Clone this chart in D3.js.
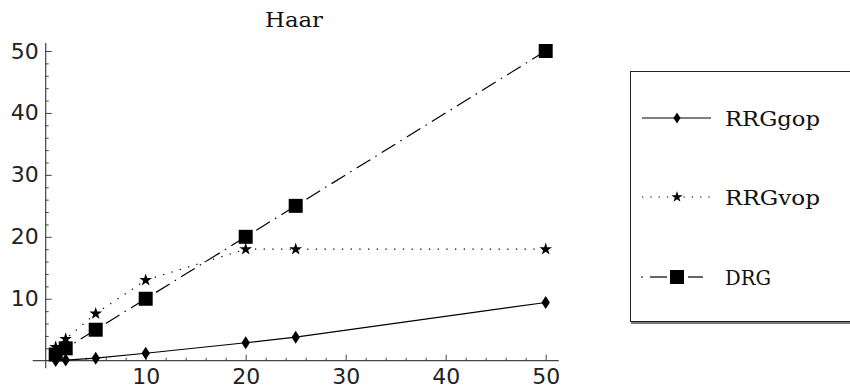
<!DOCTYPE html>
<html><head><meta charset="utf-8">
<script src="https://cdn.jsdelivr.net/npm/d3@7"></script>
<style>html,body{margin:0;padding:0;background:#fff;}svg{display:block;}</style>
</head><body>
<svg id="chart" width="850" height="389"></svg>
<script>
const xValues = [1, 2, 5, 10, 20, 25, 50];
const rrgGop = [0.05, 0.1, 0.4, 1.2, 2.9, 3.8, 9.4];
const rrgVop = [2.2, 3.5, 7.6, 13.0, 18.0, 18.0, 18.0];
const drg = [1, 2, 5, 10, 20, 25, 50];
const seriesNames = ["RRGgop", "RRGvop", "DRG"];
const xTickLabels = [10, 20, 30, 40, 50];
const yTickLabels = [10, 20, 30, 40, 50];
const minorTicks = [2, 4, 6, 8, 12, 14, 16, 18, 22, 24, 26, 28, 32, 34, 36, 38, 42, 44, 46, 48];
const title = "Haar";

const svg = d3.select("#chart");
const x = d3.scaleLinear().domain([0, 50]).range([45.7, 545.7]);
const y = d3.scaleLinear().domain([0, 50]).range([360.7, 51]);

const serif = "'DejaVu Serif', serif";
const sans = "'DejaVu Sans', sans-serif";

// title
svg.append("text").attr("x", 265).attr("y", 27)
  .attr("font-family", serif).attr("font-size", 20)
  .attr("textLength", 58).attr("lengthAdjust", "spacingAndGlyphs").attr("fill", "#111").text(title);

// axes lines
svg.append("line").attr("x1", x(-1.3)).attr("x2", x(51.3)).attr("y1", y(0)).attr("y2", y(0))
  .attr("stroke", "#444").attr("stroke-width", 1.2);
svg.append("line").attr("x1", x(0)).attr("x2", x(0)).attr("y1", y(-1.2)).attr("y2", y(51.3))
  .attr("stroke", "#444").attr("stroke-width", 1.2);

function styleAxis(g) {
  g.select(".domain").remove();
  g.selectAll(".tick line").attr("stroke", "#444").attr("stroke-width", 1);
}
// x ticks (pointing up)
svg.append("g").attr("transform", `translate(0,${y(0)})`)
  .call(d3.axisTop(x).tickValues(xTickLabels).tickSize(6).tickFormat(""))
  .call(styleAxis);
svg.append("g").attr("transform", `translate(0,${y(0)})`)
  .call(d3.axisTop(x).tickValues(minorTicks).tickSize(3).tickFormat(""))
  .call(styleAxis);
// x labels
svg.append("g").attr("transform", `translate(0,${y(0)})`)
  .call(d3.axisBottom(x).tickValues(xTickLabels).tickSize(0).tickPadding(8).tickFormat(d3.format("d")))
  .call(g => { g.select(".domain").remove(); g.selectAll("text").attr("font-family", sans).attr("font-size", 22).attr("fill", "#222"); });

// y ticks (pointing right)
svg.append("g").attr("transform", `translate(${x(0)},0)`)
  .call(d3.axisRight(y).tickValues(yTickLabels).tickSize(6).tickFormat(""))
  .call(styleAxis);
svg.append("g").attr("transform", `translate(${x(0)},0)`)
  .call(d3.axisRight(y).tickValues(minorTicks).tickSize(3).tickFormat(""))
  .call(styleAxis);
svg.append("g").attr("transform", `translate(${x(0)},0)`)
  .call(d3.axisLeft(y).tickValues(yTickLabels).tickSize(0).tickPadding(7).tickFormat(d3.format("d")))
  .call(g => { g.select(".domain").remove(); g.selectAll("text").attr("font-family", sans).attr("font-size", 22).attr("fill", "#222"); });

const series = [
  { name: seriesNames[0], vals: rrgGop, dash: null, marker: "diamond" },
  { name: seriesNames[1], vals: rrgVop, dash: "1.3,7.4", marker: "star" },
  { name: seriesNames[2], vals: drg, dash: "16,6,1.5,6", marker: "square" }
];

const sym = {
  diamond: "M0,-6.5L4.2,0L0,6.5L-4.2,0Z",
  star: d3.symbol(d3.symbolStar, 50)(),
  square: "M-7,-7H7V7H-7Z"
};
const symSmall = {
  diamond: "M0,-5.5L3.5,0L0,5.5L-3.5,0Z",
  star: d3.symbol(d3.symbolStar, 40)(),
  square: "M-7,-7H7V7H-7Z"
};

const line = d3.line().x(d => x(d[0])).y(d => y(d[1]));
series.forEach(s => {
  const pts = xValues.map((v, i) => [v, s.vals[i]]);
  svg.append("path").attr("d", line(pts)).attr("fill", "none").attr("stroke", "#000")
    .attr("stroke-width", 1.2).attr("stroke-dasharray", s.dash);
});
series.forEach(s => {
  const pts = xValues.map((v, i) => [v, s.vals[i]]);
  svg.append("g").selectAll("path").data(pts).join("path")
    .attr("transform", d => `translate(${x(d[0])},${y(d[1])})`)
    .attr("d", sym[s.marker]).attr("fill", "#000");
});

// legend
const lg = svg.append("g");
lg.append("rect").attr("x", 631).attr("y", 73).attr("width", 230).attr("height", 251).attr("fill", "#777");
lg.append("rect").attr("x", 630.5).attr("y", 71.5).attr("width", 230).attr("height", 250).attr("fill", "#fff").attr("stroke", "#222").attr("stroke-width", 1);
const legY = [118, 197, 277];
const legTextLen = [95, 95, 46];
series.forEach((s, i) => {
  const yy = legY[i];
  if (s.marker === "square") {
    lg.append("line").attr("x1", 641).attr("x2", 643).attr("y1", yy).attr("y2", yy).attr("stroke", "#000").attr("stroke-width", 1.2);
    lg.append("line").attr("x1", 650).attr("x2", 667).attr("y1", yy).attr("y2", yy).attr("stroke", "#000").attr("stroke-width", 1.2);
    lg.append("line").attr("x1", 688).attr("x2", 703).attr("y1", yy).attr("y2", yy).attr("stroke", "#000").attr("stroke-width", 1.2);
  } else {
    lg.append("line").attr("x1", 642).attr("x2", 711).attr("y1", yy).attr("y2", yy).attr("stroke", "#000")
      .attr("stroke-width", 1.2).attr("stroke-dasharray", s.dash === null ? null : "1.3,7");
  }
  lg.append("path").attr("transform", `translate(677,${yy})`).attr("d", symSmall[s.marker]).attr("fill", "#000");
  lg.append("text").attr("x", 725).attr("y", yy).attr("dy", "0.36em")
    .attr("font-family", serif).attr("font-size", 21)
    .attr("textLength", legTextLen[i]).attr("lengthAdjust", "spacingAndGlyphs").attr("fill", "#111").text(s.name);
});
</script>
</body></html>
